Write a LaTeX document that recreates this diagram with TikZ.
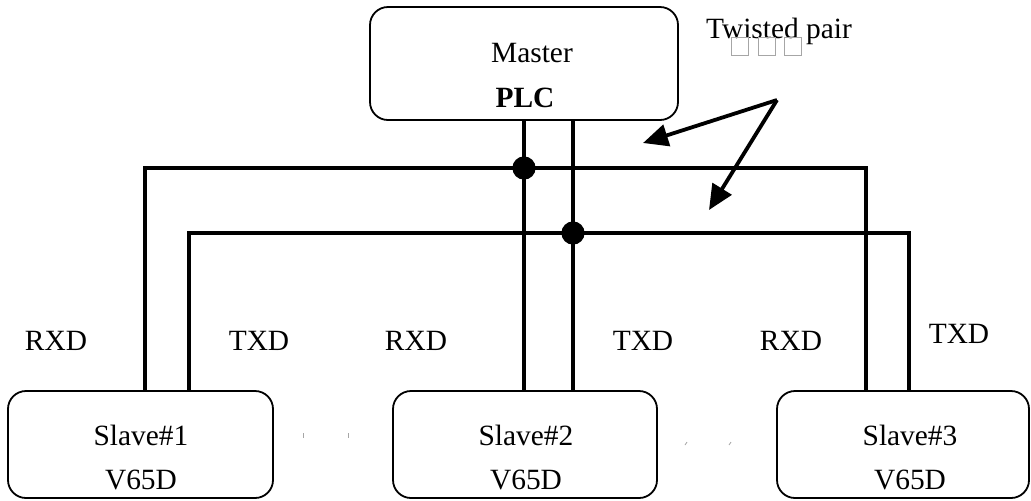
\documentclass[tikz,border=0pt]{standalone}
\usepackage{fontspec}
\setmainfont{Liberation Serif}
\usetikzlibrary{arrows.meta, positioning}

\begin{document}
\begin{tikzpicture}[x=0.5pt, y=-0.5pt,
        station/.style={rectangle, rounded corners=9pt, draw, line width=0.9pt, inner sep=0pt, outer sep=0pt},
        lbl/.style={font=\fontsize{14.7}{17}\selectfont, inner sep=0pt, anchor=base},
        wire/.style={line width=1.9pt},
        pointer/.style={line width=1.9pt, -{Triangle[length=12.5pt, width=11pt]}},
        tofu/.style={draw=gray!70, line width=0.4pt}]
    \useasboundingbox (0,0) rectangle (1031,500);
    \node[station, minimum width=154pt, minimum height=56.5pt] (m) at (524,63.5) {};
    \node[station, minimum width=132.5pt, minimum height=53.5pt] (s1) at (140.5,444.5) {};
    \node[station, minimum width=132pt, minimum height=53.5pt] (s2) at (525,444.5) {};
    \node[station, minimum width=126pt, minimum height=53.5pt] (s3) at (903,444.5) {};
    \node[lbl] (mt) at (532,62) {Master};
    \node[lbl] (mb) at (525,107) {\bfseries PLC};
    \node[lbl] (s1t) at (141,445) {Slave\#1};
    \node[lbl] (s1b) at (141,489) {V65D};
    \node[lbl] (s2t) at (526,445) {Slave\#2};
    \node[lbl] (s2b) at (526,489) {V65D};
    \node[lbl] (s3t) at (910,445) {Slave\#3};
    \node[lbl] (s3b) at (910,489) {V65D};
    \node[lbl] (rx1) at (56,350) {RXD};
    \node[lbl] (tx1) at (259,350) {TXD};
    \node[lbl] (rx2) at (416,350) {RXD};
    \node[lbl] (tx2) at (643,350) {TXD};
    \node[lbl] (rx3) at (791,350) {RXD};
    \node[lbl] (tx3) at (959,343) {TXD};
    \node[lbl] (tp) at (779,38) {Twisted pair};
    \draw[tofu] (731,37) rectangle (748,55);
    \draw[tofu] (758,37) rectangle (775,55);
    \draw[tofu] (784,37) rectangle (801,55);
    \coordinate (d1) at (524,168);
    \coordinate (d2) at (573,233);
    \coordinate (c1) at (145,168);
    \coordinate (c2) at (866,168);
    \coordinate (c3) at (189,233);
    \coordinate (c4) at (909,233);
    \draw[wire] (s1.north -| c1) -- (c1) -- (c2) -- (s3.north -| c2);
    \draw[wire] (s1.north -| c3) -- (c3) -- (c4) -- (s3.north -| c4);
    \draw[wire] (m.south -| d1) -- (s2.north -| d1);
    \draw[wire] (m.south -| d2) -- (s2.north -| d2);
    \fill (d1) circle (5.8pt);
    \fill (d2) circle (5.8pt);
    \coordinate (src) at (777,100);
    \coordinate (tip1) at (643,143);
    \coordinate (tip2) at (709,210);
    \draw[pointer] (src) -- (tip1);
    \draw[pointer] (src) -- (tip2);
    \draw[tofu] (303,433) -- (303,438);
    \draw[tofu] (348,433) -- (348,438);
    \draw[tofu] (685,445) -- (687,442);
    \draw[tofu] (729,445) -- (731,442);
\end{tikzpicture}
\end{document}
